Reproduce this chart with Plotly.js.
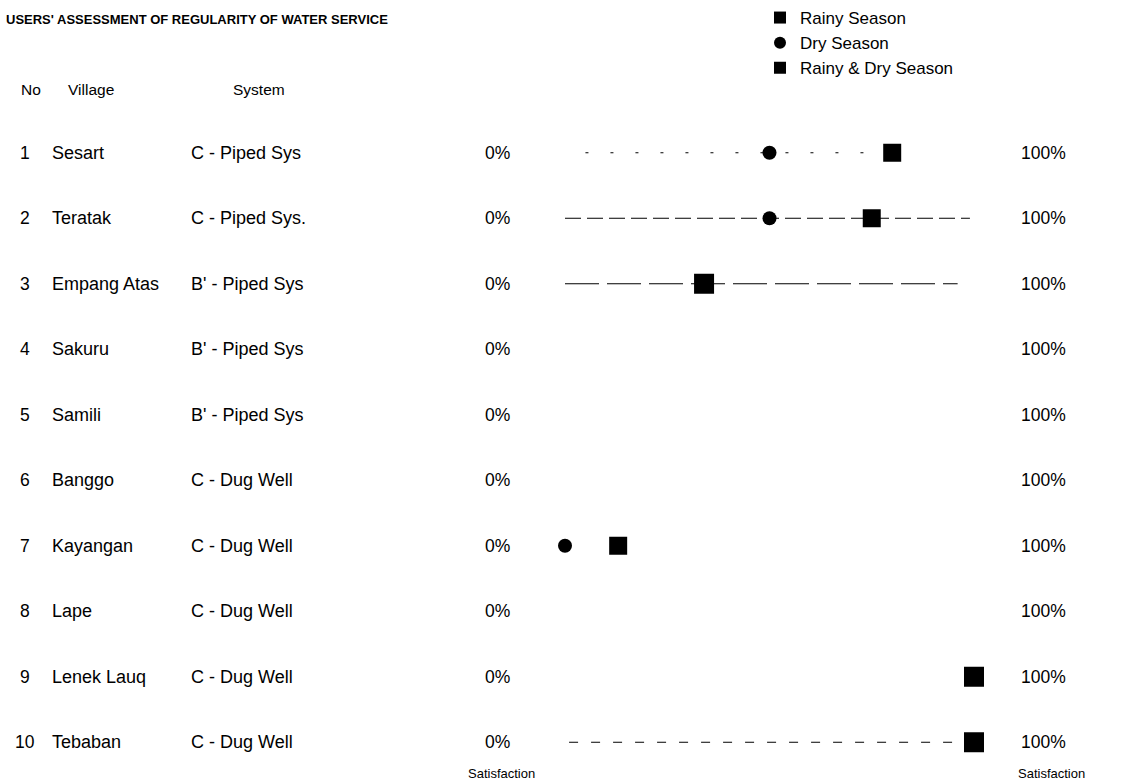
<!DOCTYPE html>
<html>
<head>
<meta charset="utf-8">
<script src="https://cdn.plot.ly/plotly-3.0.1.min.js"></script>
<style>
  html, body { margin: 0; padding: 0; background: #ffffff; }
  #chart { width: 1122px; height: 784px; }
</style>
</head>
<body>
<div id="chart"></div>
<script>
// ---- data ----
const rowNumbers = [1, 2, 3, 4, 5, 6, 7, 8, 9, 10];
const villages = ["Sesart", "Teratak", "Empang Atas", "Sakuru", "Samili", "Banggo", "Kayangan", "Lape", "Lenek Lauq", "Tebaban"];
const systems = ["C - Piped Sys", "C - Piped Sys.", "B' - Piped Sys", "B' - Piped Sys", "B' - Piped Sys", "C - Dug Well", "C - Dug Well", "C - Dug Well", "C - Dug Well", "C - Dug Well"];
const rainySeason = [80, 75, null, null, null, null, 13, null, null, null];
const drySeason = [50, 50, null, null, null, null, 0, null, null, null];
const rainyAndDry = [null, null, 34, null, null, null, null, null, 100, 100];
const guideRows = [1, 2, 3, 10];
const guideStart = [5, 0, 0, 1];
const guideEnd = [83, 99, 96, 99];
const leftLabel = "0%";
const rightLabel = "100%";
const scaleCaption = "Satisfaction";

// ---- geometry helpers (pixels -> paper) ----
const W = 1122, H = 784;
const M = { l: 565, r: 148, t: 120, b: 9, autoexpand: false };
const PW = W - M.l - M.r, PH = H - M.t - M.b;
const px = x => (x - M.l) / PW;
const py = y => (H - M.b - y) / PH;

const FONT = "Liberation Sans, Arial, sans-serif";

const dashes = ["3px,22px", "16px,6px", "34px,8px", "9px,13px"];

const traces = [];
guideRows.forEach((r, i) => {
  traces.push({
    type: "scatter", mode: "lines",
    x: [guideStart[i], guideEnd[i]], y: [r, r],
    line: { color: "#000", width: 1, dash: dashes[i] },
    showlegend: false, hoverinfo: "skip", cliponaxis: false
  });
});
traces.push({
  type: "scatter", mode: "markers", name: "Rainy Season",
  x: rainySeason, y: rowNumbers,
  marker: { symbol: "square", size: 18, color: "#000" },
  cliponaxis: false
});
traces.push({
  type: "scatter", mode: "markers", name: "Dry Season",
  x: drySeason, y: rowNumbers,
  marker: { symbol: "circle", size: 14, color: "#000" },
  cliponaxis: false
});
traces.push({
  type: "scatter", mode: "markers", name: "Rainy & Dry Season",
  x: rainyAndDry, y: rowNumbers,
  marker: { symbol: "square", size: 20, color: "#000" },
  cliponaxis: false
});

const ann = [];
const txt = (text, x, y, anchor, size) => ({
  text: text, xref: "paper", yref: "paper", x: px(x), y: py(y),
  xanchor: anchor, yanchor: "middle", showarrow: false,
  font: { family: FONT, size: size || 18, color: "#000" }
});

// header
ann.push(txt("<b>USERS' ASSESSMENT OF REGULARITY OF WATER SERVICE</b>", 4, 20, "left", 13));
ann.push(txt("No", 19, 89, "left", 15.5));
ann.push(txt("Village", 66, 89, "left", 15.5));
ann.push(txt("System", 231, 89, "left", 15.5));

rowNumbers.forEach((n, i) => {
  const yPix = M.t + (n - 0.5) * (PH / 10);
  ann.push(txt(String(n), 25, yPix, "center", 17.5));
  ann.push(txt(villages[i], 50, yPix, "left", 18));
  ann.push(txt(systems[i], 189, yPix, "left", 18));
  ann.push(txt(leftLabel, 497, yPix, "center", 17.5));
  ann.push(txt(rightLabel, 1043, yPix, "center", 17.5));
});
ann.push(txt(scaleCaption, 501, 773, "center", 13));
ann.push(txt(scaleCaption, 1051, 773, "center", 13));

const layout = {
  width: W, height: H,
  margin: M,
  paper_bgcolor: "#fff", plot_bgcolor: "#fff",
  showlegend: true,
  legend: {
    xref: "container", yref: "container",
    x: 760 / W, y: 1, xanchor: "left", yanchor: "top",
    font: { family: FONT, size: 17, color: "#000" },
    itemsizing: "constant", tracegroupgap: 0,
    bgcolor: "rgba(0,0,0,0)", borderwidth: 0
  },
  xaxis: { range: [0, 100], visible: false, fixedrange: true },
  yaxis: { range: [10.5, 0.5], visible: false, fixedrange: true },
  annotations: ann
};

Plotly.newPlot("chart", traces, layout, { displayModeBar: false, staticPlot: true });
</script>
</body>
</html>
